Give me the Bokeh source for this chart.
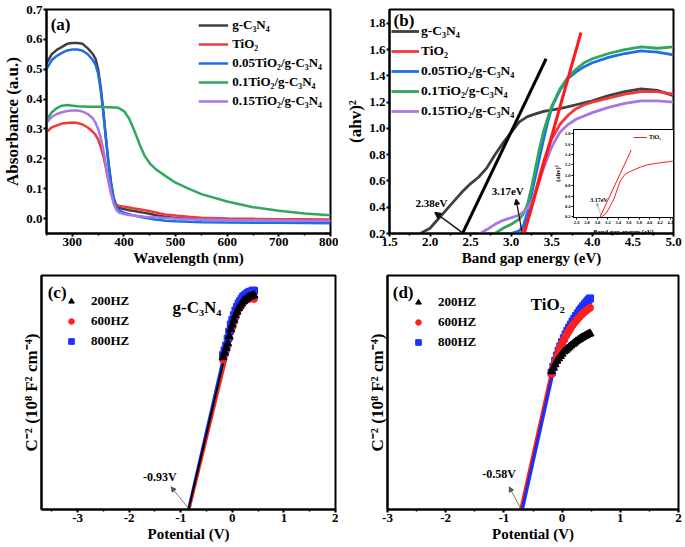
from bokeh.plotting import figure
from bokeh.layouts import row, column
from bokeh.models import (Legend, LegendItem, Label, Arrow, NormalHead, PrintfTickFormatter,
                          SingleIntervalTicker, FixedTicker, Range1d)
from bokeh.embed import file_html
from bokeh.resources import INLINE

FONT = "Liberation Serif"

# ---------------- (a) UV-vis absorbance ----------------
wl_nm = [250, 260, 270, 280, 290, 300, 310, 320, 330, 340, 345, 350, 355, 360, 365, 370, 375, 380,
         385, 390, 400, 410, 420, 430, 440, 450, 460, 470, 480, 500, 525, 550, 600, 650, 700, 750, 800]
abs_gcn = [0.52, 0.55, 0.565, 0.575, 0.585, 0.588, 0.588, 0.585, 0.57, 0.55, 0.535, 0.50, 0.44, 0.36, 0.27, 0.19,
           0.12, 0.07, 0.045, 0.036, 0.032, 0.028, 0.025, 0.022, 0.019, 0.016, 0.012, 0.009, 0.006, 0.002, 0.0,
           -0.002, -0.004, -0.005, -0.005, -0.005, -0.006]
abs_tio2 = [0.29, 0.305, 0.312, 0.318, 0.32, 0.322, 0.32, 0.315, 0.305, 0.29, 0.28, 0.265, 0.24, 0.21, 0.17, 0.125,
            0.085, 0.058, 0.047, 0.043, 0.04, 0.037, 0.034, 0.031, 0.028, 0.025, 0.021, 0.017, 0.014, 0.01, 0.006,
            0.003, 0.0, -0.001, -0.002, -0.002, -0.003]
abs_005 = [0.50, 0.53, 0.545, 0.555, 0.563, 0.566, 0.566, 0.562, 0.55, 0.53, 0.515, 0.485, 0.43, 0.355, 0.27, 0.185,
           0.115, 0.065, 0.04, 0.028, 0.02, 0.015, 0.01, 0.006, 0.003, 0.0, -0.003, -0.005, -0.007, -0.009, -0.011,
           -0.012, -0.013, -0.014, -0.014, -0.015, -0.016]
abs_01 = [0.33, 0.355, 0.37, 0.378, 0.38, 0.378, 0.376, 0.375, 0.374, 0.374, 0.374, 0.374, 0.374, 0.374, 0.373,
          0.373, 0.373, 0.372, 0.372, 0.37, 0.36, 0.335, 0.295, 0.25, 0.21, 0.185, 0.168, 0.155, 0.143, 0.12, 0.10,
          0.082, 0.057, 0.038, 0.026, 0.017, 0.011]
abs_015 = [0.32, 0.34, 0.35, 0.356, 0.36, 0.362, 0.362, 0.358, 0.35, 0.335, 0.32, 0.30, 0.27, 0.23, 0.18, 0.13,
           0.085, 0.05, 0.03, 0.02, 0.015, 0.012, 0.01, 0.008, 0.006, 0.005, 0.004, 0.003, 0.002, 0.0, -0.002,
           -0.003, -0.005, -0.006, -0.006, -0.007, -0.007]
a_xticks = [300, 400, 500, 600, 700, 800]
a_xminor = [250, 350, 450, 550, 650, 750]
a_yticks = [0.0, 0.1, 0.2, 0.3, 0.4, 0.5, 0.6, 0.7]

names = ["g-C₃N₄", "TiO₂", "0.05TiO₂/g-C₃N₄", "0.1TiO₂/g-C₃N₄", "0.15TiO₂/g-C₃N₄"]
colors = ["#404040", "#f03a3a", "#1e6ee8", "#2fa85c", "#a777e8"]

# ---------------- (b) Tauc plot ----------------
gcn_ev = [1.88, 2.0, 2.1, 2.2, 2.3, 2.4, 2.5, 2.6, 2.7, 2.8, 2.9, 3.0, 3.1, 3.2, 3.3, 3.4, 3.6, 3.8, 4.0,
          4.2, 4.4, 4.6, 4.8, 5.0]
gcn_ahv = [0.2, 0.24, 0.31, 0.38, 0.45, 0.52, 0.58, 0.63, 0.70, 0.80, 0.89, 0.97, 1.05, 1.09, 1.11, 1.13, 1.15,
           1.18, 1.21, 1.25, 1.28, 1.30, 1.29, 1.25]
tio2_ev = [3.12, 3.2, 3.25, 3.3, 3.35, 3.4, 3.45, 3.5, 3.6, 3.7, 3.8, 3.9, 4.0, 4.2, 4.4, 4.6, 4.8, 5.0]
tio2_ahv = [0.2, 0.3, 0.4, 0.52, 0.64, 0.75, 0.84, 0.92, 1.03, 1.1, 1.15, 1.18, 1.2, 1.23, 1.26, 1.28, 1.28, 1.26]
c005_ev = [3.0, 3.1, 3.15, 3.2, 3.25, 3.3, 3.35, 3.4, 3.45, 3.5, 3.6, 3.7, 3.8, 3.9, 4.0, 4.2, 4.4, 4.6, 4.8, 5.0]
c005_ahv = [0.2, 0.22, 0.26, 0.36, 0.5, 0.64, 0.78, 0.92, 1.05, 1.16, 1.29, 1.38, 1.43, 1.47, 1.5, 1.54, 1.57,
            1.59, 1.58, 1.56]
c01_ev = [2.8, 2.9, 3.0, 3.1, 3.15, 3.2, 3.25, 3.3, 3.35, 3.4, 3.45, 3.5, 3.6, 3.7, 3.8, 3.9, 4.0, 4.2, 4.4,
          4.6, 4.8, 5.0]
c01_ahv = [0.2, 0.24, 0.27, 0.31, 0.35, 0.42, 0.55, 0.70, 0.85, 0.98, 1.08, 1.17, 1.30, 1.39, 1.45, 1.50, 1.53,
           1.57, 1.60, 1.62, 1.61, 1.62]
c015_ev = [2.62, 2.7, 2.8, 2.9, 3.0, 3.1, 3.2, 3.25, 3.3, 3.35, 3.4, 3.45, 3.5, 3.6, 3.7, 3.8, 4.0, 4.2, 4.4,
           4.6, 4.8, 5.0]
c015_ahv = [0.2, 0.23, 0.27, 0.3, 0.32, 0.34, 0.39, 0.44, 0.52, 0.61, 0.70, 0.78, 0.86, 0.97, 1.03, 1.07, 1.12,
            1.16, 1.19, 1.21, 1.21, 1.20]
fit_gcn_ev = [2.4, 3.43]
fit_gcn_ahv = [0.2, 1.53]
fit_tio2_ev = [3.16, 3.86]
fit_tio2_ahv = [0.2, 1.73]
b_xticks = [1.5, 2.0, 2.5, 3.0, 3.5, 4.0, 4.5, 5.0]
b_xminor = [1.75, 2.25, 2.75, 3.25, 3.75, 4.25, 4.75]
b_yticks = [0.2, 0.4, 0.6, 0.8, 1.0, 1.2, 1.4, 1.6, 1.8]

# inset of (b): TiO2 only
ins_ev = [3.08, 3.17, 3.25, 3.32, 3.38, 3.44, 3.53, 3.62, 3.71, 3.83, 3.95, 4.13, 4.28, 4.43, 4.5]
ins_ahv = [0.2, 0.275, 0.42, 0.555, 0.73, 0.9, 1.02, 1.07, 1.11, 1.16, 1.2, 1.23, 1.25, 1.27, 1.27]
ins_fit_ev = [3.05, 3.65]
ins_fit_ahv = [0.2, 1.49]
ins_xticks = [2.6, 2.8, 3.0, 3.2, 3.4, 3.6, 3.8, 4.0, 4.2, 4.4]
ins_yticks = [0.2, 0.4, 0.6, 0.8, 1.0, 1.2, 1.4, 1.6, 1.8]

# ---------------- (c) Mott-Schottky g-C3N4 ----------------
c_pot = [-0.18, -0.15, -0.12, -0.09, -0.06, -0.03, 0.00, 0.03, 0.06, 0.09, 0.12, 0.15, 0.18, 0.21, 0.24,
         0.27, 0.30, 0.33, 0.36, 0.39, 0.42]
c_200 = [0.65, 0.67, 0.69, 0.71, 0.74, 0.77, 0.79, 0.81, 0.83, 0.845, 0.86, 0.87, 0.88, 0.89, 0.895, 0.90,
         0.905, 0.91, 0.91, 0.915, 0.915]
c_600 = [0.64, 0.66, 0.68, 0.70, 0.73, 0.76, 0.78, 0.80, 0.82, 0.84, 0.855, 0.865, 0.875, 0.885, 0.89, 0.895,
         0.90, 0.90, 0.905, 0.905, 0.90]
c_800 = [0.66, 0.68, 0.70, 0.73, 0.76, 0.79, 0.81, 0.83, 0.85, 0.865, 0.88, 0.89, 0.90, 0.91, 0.915, 0.92,
         0.925, 0.93, 0.93, 0.935, 0.935]
c_fit200_x = [-0.85, -0.15]
c_fit200_y = [0.0, 0.65]
c_fit600_x = [-0.83, -0.12]
c_fit600_y = [0.0, 0.64]
c_fit800_x = [-0.86, -0.17]
c_fit800_y = [0.0, 0.66]

# ---------------- (d) Mott-Schottky TiO2 ----------------
d_pot = [-0.18, -0.15, -0.12, -0.09, -0.06, -0.03, 0.00, 0.03, 0.06, 0.09, 0.12, 0.15, 0.18, 0.21, 0.24,
         0.27, 0.30, 0.33, 0.36, 0.39, 0.42, 0.45, 0.48]
d_200 = [0.59, 0.605, 0.62, 0.635, 0.645, 0.655, 0.665, 0.675, 0.68, 0.687, 0.694, 0.70, 0.706, 0.712, 0.718,
         0.723, 0.728, 0.733, 0.737, 0.741, 0.745, 0.749, 0.752]
d_600 = [0.58, 0.605, 0.63, 0.655, 0.675, 0.695, 0.71, 0.725, 0.74, 0.752, 0.764, 0.776, 0.787, 0.797, 0.806,
         0.815, 0.823, 0.831, 0.838, 0.845, 0.851, 0.857, 0.862]
d_800 = [0.585, 0.61, 0.635, 0.658, 0.678, 0.697, 0.715, 0.732, 0.748, 0.763, 0.777, 0.79, 0.803, 0.815, 0.827,
         0.838, 0.849, 0.859, 0.868, 0.877, 0.886, 0.894, 0.902]
d_fit200_x = [-0.69, -0.16]
d_fit200_y = [0.0, 0.59]
d_fit600_x = [-0.72, -0.19]
d_fit600_y = [0.0, 0.59]
d_fit800_x = [-0.68, -0.15]
d_fit800_y = [0.0, 0.59]

freq_names = ["200HZ", "600HZ", "800HZ"]
freq_colors = ["#000000", "#ff1f1f", "#1f2fff"]
freq_markers = ["triangle", "circle", "square"]


def style(p, tick_size="13px", xlabel_size="15px", ylabel_size="17px", line_w=2, tick_out=3):
    p.grid.visible = False
    p.outline_line_color = "black"
    p.outline_line_width = line_w
    p.outline_line_alpha = 1
    p.background_fill_color = "white"
    p.border_fill_color = "white"
    for ax in p.axis:
        ax.axis_line_width = line_w
        ax.major_tick_line_width = line_w
        ax.major_tick_out = tick_out
        ax.major_tick_in = 0
        ax.minor_tick_line_width = max(1, line_w - 0.5)
        ax.minor_tick_out = max(1, tick_out - 1)
        ax.minor_tick_in = 0
        ax.major_label_text_font = FONT
        ax.major_label_text_font_style = "bold"
        ax.major_label_text_font_size = tick_size
        ax.major_label_text_color = "black"
        ax.axis_label_text_font = FONT
        ax.axis_label_text_font_style = "bold"
        ax.axis_label_text_color = "black"
        ax.axis_label_standoff = 1
        ax.major_label_standoff = 1
    for ax in p.xaxis:
        ax.axis_label_text_font_size = xlabel_size
    for ax in p.yaxis:
        ax.axis_label_text_font_size = ylabel_size


def add_label(p, x, y, text, size, baseline="top", align="left"):
    p.add_layout(Label(x=x, y=y, text=text, text_font=FONT, text_font_style="bold",
                       text_font_size=size, text_baseline=baseline, text_align=align,
                       text_color="black"))


def add_arrow(p, xs, ys, xe, ye, color="#555555", width=0.8, head=5):
    p.add_layout(Arrow(x_start=xs, y_start=ys, x_end=xe, y_end=ye, line_color=color, line_width=width,
                       end=NormalHead(size=head, fill_color=color, line_color=color, line_width=width)))


def make_legend(items, location, size="12px", gw=30, gh=14, spacing=3, padding=4, margin=8, standoff=4):
    return Legend(items=items, location=location, label_text_font=FONT, label_text_font_style="bold",
                  label_text_font_size=size, glyph_width=gw, glyph_height=gh, spacing=spacing,
                  padding=padding, margin=margin, label_standoff=standoff, border_line_color=None,
                  background_fill_alpha=0, label_text_color="black")


# ================= panel (a) =================
pa = figure(width=338, height=272, x_range=Range1d(250, 800), y_range=Range1d(-0.05, 0.7),
            output_backend="svg", toolbar_location=None,
            min_border_left=42, min_border_right=8, min_border_top=9, min_border_bottom=39,
            x_axis_label="Wavelength (nm)", y_axis_label="Absorbance (a.u.)")
pa.xaxis.ticker = FixedTicker(ticks=a_xticks, minor_ticks=a_xminor)
pa.yaxis.ticker = FixedTicker(ticks=a_yticks)
pa.yaxis.formatter = PrintfTickFormatter(format="%.1f")
style(pa)
a_series = [abs_gcn, abs_tio2, abs_005, abs_01, abs_015]
a_items = []
for nm, col, ys in zip(names, colors, a_series):
    r = pa.line(wl_nm, ys, line_color=col, line_width=2.5)
    a_items.append(LegendItem(label=nm, renderers=[r]))
pa.add_layout(make_legend(a_items, "top_right", size="13px", gw=30, gh=14, spacing=3, padding=8, margin=8))
add_label(pa, 258, 0.68, "(a)", "17px")

# ================= panel (b) =================
pb = figure(width=346, height=272, x_range=Range1d(1.5, 5.0), y_range=Range1d(0.2, 1.905),
            output_backend="svg", toolbar_location=None,
            min_border_left=51, min_border_right=11, min_border_top=5, min_border_bottom=39,
            x_axis_label="Band gap energy (eV)", y_axis_label="(ahv)²")
pb.xaxis.ticker = FixedTicker(ticks=b_xticks, minor_ticks=b_xminor)
pb.yaxis.ticker = FixedTicker(ticks=b_yticks)
pb.xaxis.formatter = PrintfTickFormatter(format="%.1f")
pb.yaxis.formatter = PrintfTickFormatter(format="%.1f")
style(pb)
b_x = [gcn_ev, tio2_ev, c005_ev, c01_ev, c015_ev]
b_y = [gcn_ahv, tio2_ahv, c005_ahv, c01_ahv, c015_ahv]
b_items = []
for nm, col, xs, ys in zip(names, colors, b_x, b_y):
    r = pb.line(xs, ys, line_color=col, line_width=2.8)
    b_items.append(LegendItem(label=nm, renderers=[r]))
pb.line(fit_gcn_ev, fit_gcn_ahv, line_color="black", line_width=3)
pb.line(fit_tio2_ev, fit_tio2_ahv, line_color="#ff1a1a", line_width=3)
pb.add_layout(make_legend(b_items, (2, 114), size="13.5px", gw=28, gh=16, spacing=4, padding=2, margin=0,
                          standoff=2))
add_label(pb, 1.55, 1.895, "(b)", "17px")
add_label(pb, 1.82, 0.39, "2.38eV", "11px", baseline="bottom")
add_arrow(pb, 2.39, 0.21, 2.06, 0.36, color="#111111", width=1.5, head=6)
add_label(pb, 2.76, 0.48, "3.17eV", "11px", baseline="bottom")
add_arrow(pb, 3.13, 0.22, 3.06, 0.46, color="#111111", width=1.2, head=5)

# ================= inset of (b) =================
pi = figure(width=124, height=109, x_range=Range1d(2.54, 4.46), y_range=Range1d(0.19, 1.88),
            output_backend="svg", toolbar_location=None,
            min_border_left=18, min_border_right=1, min_border_top=1, min_border_bottom=18,
            x_axis_label="Band gap energy (eV)", y_axis_label="(ahv)²")
pi.xaxis.ticker = FixedTicker(ticks=ins_xticks)
pi.yaxis.ticker = FixedTicker(ticks=ins_yticks)
pi.xaxis.formatter = PrintfTickFormatter(format="%.1f")
pi.yaxis.formatter = PrintfTickFormatter(format="%.1f")
style(pi, tick_size="4.5px", xlabel_size="6.5px", ylabel_size="6.5px", line_w=1, tick_out=2)
pi.border_fill_alpha = 0
ri = pi.line(ins_ev, ins_ahv, line_color="#ff1a1a", line_width=1)
pi.line(ins_fit_ev, ins_fit_ahv, line_color="#ff1a1a", line_width=1)
pi.add_layout(make_legend([LegendItem(label="TiO₂", renderers=[ri])], "top_right", size="6px", gw=14, gh=8,
                          spacing=0, padding=2, margin=4, standoff=2))
add_label(pi, 2.86, 0.47, "3.17eV", "6px", baseline="bottom")
add_arrow(pi, 3.08, 0.2, 2.99, 0.46, color="#777777", width=0.5, head=2)
pi.styles = {"position": "absolute", "left": "550px", "top": "128px"}

# ================= panel (c) =================
pc = figure(width=338, height=274, x_range=Range1d(-3.7, 2.0), y_range=Range1d(0.0, 1.0),
            output_backend="svg", toolbar_location=None,
            min_border_left=41, min_border_right=3, min_border_top=3, min_border_bottom=37,
            x_axis_label="Potential (V)", y_axis_label="C⁻² (10⁸ F² cm⁻⁴)")
pc.xaxis.ticker = SingleIntervalTicker(interval=1, num_minor_ticks=2)
pc.xaxis.formatter = PrintfTickFormatter(format="%d")
pc.yaxis.ticker = FixedTicker(ticks=[])
style(pc)
pc.line(c_fit600_x, c_fit600_y, line_color=freq_colors[1], line_width=2)
pc.line(c_fit800_x, c_fit800_y, line_color=freq_colors[2], line_width=2)
pc.line(c_fit200_x, c_fit200_y, line_color=freq_colors[0], line_width=2)
rc600 = pc.scatter(c_pot, c_600, marker=freq_markers[1], size=7, color=freq_colors[1])
rc800 = pc.scatter(c_pot, c_800, marker=freq_markers[2], size=7, color=freq_colors[2])
rc200 = pc.scatter(c_pot, c_200, marker=freq_markers[0], size=8, color=freq_colors[0])
pc.add_layout(make_legend([LegendItem(label=freq_names[0], renderers=[rc200]),
                           LegendItem(label=freq_names[1], renderers=[rc600]),
                           LegendItem(label=freq_names[2], renderers=[rc800])],
                          "top_left", size="13px", gw=24, gh=14, spacing=4, padding=4, margin=18, standoff=8))
add_label(pc, -3.58, 0.97, "(c)", "17px")
add_label(pc, -1.16, 0.905, "g-C₃N₄", "17px")
add_label(pc, -1.73, 0.11, "-0.93V", "12px", baseline="bottom")
add_arrow(pc, -0.85, 0.005, -1.19, 0.097)

# ================= panel (d) =================
pd = figure(width=346, height=274, x_range=Range1d(-3.0, 2.0), y_range=Range1d(0.0, 1.0),
            output_backend="svg", toolbar_location=None,
            min_border_left=49, min_border_right=6, min_border_top=3, min_border_bottom=37,
            x_axis_label="Potential (V)", y_axis_label="C⁻² (10⁸ F² cm⁻⁴)")
pd.xaxis.ticker = SingleIntervalTicker(interval=1, num_minor_ticks=2)
pd.xaxis.formatter = PrintfTickFormatter(format="%d")
pd.yaxis.ticker = FixedTicker(ticks=[])
style(pd)
pd.line(d_fit600_x, d_fit600_y, line_color=freq_colors[1], line_width=2)
pd.line(d_fit200_x, d_fit200_y, line_color=freq_colors[0], line_width=2)
pd.line(d_fit800_x, d_fit800_y, line_color=freq_colors[2], line_width=3)
rd800 = pd.scatter(d_pot, d_800, marker=freq_markers[2], size=7, color=freq_colors[2])
rd600 = pd.scatter(d_pot, d_600, marker=freq_markers[1], size=7, color=freq_colors[1])
rd200 = pd.scatter(d_pot, d_200, marker=freq_markers[0], size=8, color=freq_colors[0])
pd.add_layout(make_legend([LegendItem(label=freq_names[0], renderers=[rd200]),
                           LegendItem(label=freq_names[1], renderers=[rd600]),
                           LegendItem(label=freq_names[2], renderers=[rd800])],
                          "top_left", size="13px", gw=24, gh=14, spacing=4, padding=4, margin=19, standoff=8))
add_label(pd, -2.91, 0.97, "(d)", "17px")
add_label(pd, -0.54, 0.915, "TiO₂", "17px")
add_label(pd, -1.37, 0.12, "-0.58V", "12px", baseline="bottom")
add_arrow(pd, -0.71, 0.004, -0.91, 0.097)

layout = column(row(pa, pb), row(pc, pd), pi)
open("out.html", "w").write(file_html(layout, INLINE))
